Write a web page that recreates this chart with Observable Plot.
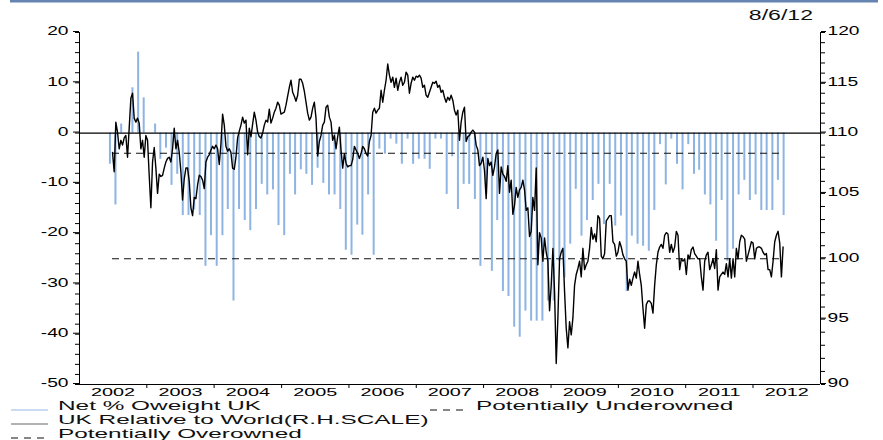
<!DOCTYPE html>
<html><head><meta charset="utf-8">
<script src="https://cdn.jsdelivr.net/npm/d3@7"></script>
<script src="https://cdn.jsdelivr.net/npm/@observablehq/plot@0.6"></script>
<style>body{margin:0;background:#fff;} svg{display:block}</style>
</head><body><div id="chart"></div>
<script>
// ---- data ----
const dateStamp = "8/6/12";
const barStart = [2002, 5];            // June 2002, monthly
const barValues = [
  -6.2, -14.3, 1.8, 0, 9.0, 16.1, 7.0,
  0, 1.8, -5.2, -3, -10.4, -8.2, -16.4, -16.4, -15.3, -16.4, -26.5, -20.4,
  -26.5, -20.4, -15.2, -33.4, -15.2, -17.4, -19.4, -15.2, -10.2, -12.3, -11.3, -18.4,
  -20.4, -8.2, -12.3, -7.3, -8.2, -10.4, -7, -10, -12.3, -12.3, -15.2, -23.3,
  -24.3, -18.3, -20.3, -12.3, -24.3, -3.2, -4.2, -1.2, -2.2, -6.2, -1.2, -6.2,
  -5.2, -5.2, -7.2, -1.2, -1.2, -12.2, -4.7, -15.2, -10.2, -10.2, -13.2, -26.5,
  -12.2, -27.5, -17.4, -31.5, -32.5, -38.6, -40.6, -35.4, -37.4, -37.4, -37.4, -33.4,
  -33.4, -25.5, -28.8, -22.1, -11.2, -20.5, -17.4, -13.4, -10.2, -18.2, -10.2, -18.5,
  -16.5, -31.5, -20.5, -22.1, -22.5, -23.5, -15.4, -2.3, -10.3, -1.2, -6.2, -11.3,
  -2.3, -8.2, -7.4, -12.3, -14.3, -21.5, -13.4, -25.5, -23.1, -12.3, -9.4, -13.4,
  -12.3, -15.4, -15.4, -15.4, -9.4, -16.4
];
const lineStart = [2002, 5, 29];
const lineStepDays = 9.045;
const lineValues = [
  108.4,106.8,111.1,110.1,108.7,109.4,109.0,109.6,109.8,108.0,
  110.5,113.5,114.0,111.5,111.1,111.5,111.0,108.7,109.4,108.0,
  109.8,109.4,106.5,103.9,107.6,108.8,107.1,105.0,106.6,106.4,
  106.5,107.1,107.6,107.9,108.0,107.6,108.7,110.5,108.7,109.4,
  108.4,106.8,104.5,106.2,107.1,107.1,106.0,103.9,103.3,104.7,
  104.6,105.7,106.5,106.4,106.1,105.4,107.6,108.0,108.2,108.6,
  108.9,108.7,109.0,108.7,107.4,109.1,111.9,110.8,108.9,108.5,
  108.7,108.4,107.1,107.0,108.0,109.6,110.2,110.8,111.6,111.0,
  111.3,108.2,110.5,109.7,110.9,112.1,111.3,110.1,109.7,109.6,
  110.0,110.8,111.3,111.1,112.4,111.0,111.5,112.1,112.5,113.1,
  112.8,111.9,112.0,112.1,112.8,113.7,114.6,115.3,114.1,113.7,
  113.2,113.8,115.4,115.4,115.0,114.2,113.1,112.0,111.3,111.6,
  112.5,113.1,111.5,108.1,109.3,109.8,110.8,111.1,112.6,112.8,
  111.6,
  111.1,109.4,109.8,108.7,109.7,110.6,108.6,107.1,108.3,107.5,
  107.2,107.3,107.3,107.8,108.9,108.6,108.3,107.9,108.3,108.9,
  108.7,108.3,108.1,109.3,109.8,112.1,112.5,112.0,112.3,112.5,
  114.3,113.1,114.3,115.3,116.9,115.8,115.1,115.6,114.6,115.5,
  114.3,115.1,115.6,114.8,115.1,116.1,115.8,114.0,115.0,115.6,
  115.3,115.7,115.6,115.8,115.5,114.6,114.8,113.8,113.6,114.1,
  114.6,115.1,115.0,115.2,114.6,114.8,114.1,114.3,113.6,113.1,
  113.6,113.3,113.8,113.3,112.3,111.8,112.3,109.4,111.1,112.1,
  112.6,109.3,109.7,109.8,110.1,110.3,110.1,109.0,108.6,107.3,
  107.5,108.0,106.9,104.6,107.9,107.3,107.6,106.5,107.2,108.3,
  108.6,105.0,107.2,106.6,106.4,106.0,107.3,105.1,106.1,103.4,
  104.1,105.5,104.7,105.3,105.5,106.1,105.3,103.7,103.9,101.7,
  102.1,104.7,103.7,107.1,99.5,102.0,101.6,99.8,101.6,100.5,
  99.8,95.7,97.8,100.8,97.3,91.6,95.1,100.0,100.5,100.8,
  97.3,94.3,92.8,94.8,93.8,95.1,97.8,98.7,
  99.2,99.8,98.5,100.8,99.1,99.5,99.8,100.8,102.4,101.5,
  101.9,101.3,103.3,103.1,100.2,100.0,100.4,102.9,103.1,103.3,
  103.3,101.3,101.1,100.2,100.5,101.3,100.9,100.3,100.0,99.8,
  97.4,98.3,97.8,98.4,98.9,98.4,99.8,98.7,97.8,95.9,
  94.3,96.2,96.5,96.5,96.3,95.5,97.8,99.5,100.5,100.9,
  101.1,100.8,101.8,102.0,101.9,100.5,101.1,100.5,100.9,102.1,
  101.8,99.1,100.0,99.8,100.0,98.7,100.3,100.0,100.7,100.9,
  100.4,100.2,100.0,100.0,98.5,97.4,99.8,100.3,100.5,99.1,
  99.5,100.0,99.2,100.7,97.4,98.5,98.7,98.9,98.7,99.6,
  98.5,100.0,98.4,100.0,98.5,100.8,100.0,101.3,101.8,101.7,
  101.5,99.8,100.3,100.8,101.3,101.2,100.0,100.8,100.9,100.9,
  100.8,100.5,100.3,100.4,99.1,99.1,98.5,99.8,101.3,101.8,
  102.1,101.2,98.5,100.9
];
const thresholds = [-4, -25];
const leftTicks = [-50, -40, -30, -20, -10, 0, 10, 20];
const rightTicks = [90, 95, 100, 105, 110, 115, 120];
// left-axis level that each right-axis tick sits at in the picture
const rightTickLevels = [-50, -37, -25, -12, 0, 9.9, 20];
const years = [2002, 2003, 2004, 2005, 2006, 2007, 2008, 2009, 2010, 2011, 2012];
const legendBars = "Net % Oweight UK";
const legendLine = "UK Relative to World(R.H.SCALE)";
const legendOver = "Potentially Overowned";
const legendUnder = "Potentially Underowned";

// ---- build ----
const rightToLeft = d3.scaleLinear().domain(rightTicks).range(rightTickLevels);
const bars = barValues.map((v, i) => ({date: new Date(Date.UTC(barStart[0], barStart[1] + i, 15)), value: v}));
const t0 = Date.UTC(lineStart[0], lineStart[1], lineStart[2]);
const line = lineValues.map((v, i) => ({date: new Date(t0 + i * lineStepDays * 864e5), value: v}));
const lineFirst = line[0].date, lineLast = line[line.length - 1].date;
const x0 = new Date(Date.UTC(years[0], 0, 1));
const x1 = new Date(Date.UTC(years[years.length - 1] + 1, 0, 1));
const font = "'Liberation Sans', Arial, sans-serif";

const svg = Plot.plot({
  width: 883, height: 440,
  marginLeft: 79, marginRight: 63, marginTop: 32, marginBottom: 56,
  style: {fontFamily: font, fontSize: "12px", color: "#000", background: "#fff", overflow: "visible"},
  x: {type: "utc", domain: [x0, x1], label: null},
  y: {domain: [-50, 20], label: null},
  marks: [
    Plot.ruleX(bars, {x: "date", y1: 0, y2: "value", stroke: "#8db4e2", strokeWidth: 2}),
    Plot.ruleY([0], {stroke: "#000", strokeWidth: 1.2}),
    Plot.ruleY(thresholds, {y: d => d, x1: () => lineFirst, x2: () => lineLast, stroke: "#111", strokeWidth: 1.1, strokeDasharray: "7,5"}),
    Plot.line(line, {x: "date", y: d => rightToLeft(d.value), stroke: "#000", strokeWidth: 1.4}),
    Plot.ruleX([x0, x1], {stroke: "#000", strokeWidth: 1}),
    Plot.ruleY([-50], {stroke: "#000", strokeWidth: 1}),
    Plot.axisY({anchor: "left", ticks: d3.range(-50, 21, 2), tickSize: 4, tickFormat: () => "", label: null}),
    Plot.axisY({anchor: "left", ticks: leftTicks, tickSize: 6, tickPadding: 5, tickFormat: d => String(d), dy: -1, label: null}),
    Plot.axisY({anchor: "right", ticks: d3.range(90, 121, 1).map(rightToLeft), tickSize: 4, tickFormat: () => "", label: null}),
    Plot.axisY({anchor: "right", ticks: rightTicks.map(rightToLeft), tickSize: 5, tickPadding: 2, tickFormat: d => String(Math.round(rightToLeft.invert(d))), dy: -1, label: null}),
    Plot.axisX({ticks: years.slice(1).map(y => new Date(Date.UTC(y, 0, 1))), tickSize: 4, tickFormat: () => "", label: null}),
    Plot.axisX({ticks: years.map(y => new Date(Date.UTC(y, 6, 2))), tickSize: 0, tickPadding: 4, fontSize: 11, tickFormat: d => String(d.getUTCFullYear()), label: null})
  ]
});

function stretch(t, k) {
  const x = +t.getAttribute("x") || 0, y = +t.getAttribute("y") || 0;
  const tr = t.getAttribute("transform") || "";
  t.setAttribute("transform", `${tr} translate(${x},${y}) scale(${k},1) translate(${-x},${-y})`);
}
svg.querySelectorAll("text").forEach(t => {
  const fs = t.closest("[font-size]");
  const isYear = fs && fs.getAttribute("font-size") === "11";
  stretch(t, isYear ? 1.8 : 1.6);
});

const s = d3.select(svg);
s.append("rect").attr("x", 10).attr("y", 0).attr("width", 868).attr("height", 2.5).attr("fill", "#6584b1");
const addText = (x, y, str, size, k, anchor) => {
  const t = s.append("text").attr("x", x).attr("y", y).attr("font-family", font)
    .attr("font-size", size).attr("fill", "#111").attr("text-anchor", anchor || "start").text(str);
  stretch(t.node(), k);
};
addText(813, 20, dateStamp, 14, 1.65, "end");

const rows = [410, 424, 438];
const lg = 12.5, lk = 1.95;
s.append("line").attr("x1", 11).attr("x2", 48).attr("y1", rows[0]).attr("y2", rows[0]).attr("stroke", "#b9d1ee").attr("stroke-width", 1.5);
addText(58, rows[0], legendBars, lg, lk);
s.append("line").attr("x1", 11).attr("x2", 48).attr("y1", rows[1]).attr("y2", rows[1]).attr("stroke", "#666").attr("stroke-width", 1.2);
addText(58, rows[1], legendLine, lg, lk);
s.append("line").attr("x1", 11).attr("x2", 48).attr("y1", rows[2]).attr("y2", rows[2]).attr("stroke", "#111").attr("stroke-width", 1.2).attr("stroke-dasharray", "7,6");
addText(58, rows[2], legendOver, lg, lk);
s.append("line").attr("x1", 430).attr("x2", 469).attr("y1", rows[0]).attr("y2", rows[0]).attr("stroke", "#111").attr("stroke-width", 1.2).attr("stroke-dasharray", "7,6");
addText(476, rows[0], legendUnder, lg, lk);

document.getElementById("chart").appendChild(svg);
</script>
</body></html>
